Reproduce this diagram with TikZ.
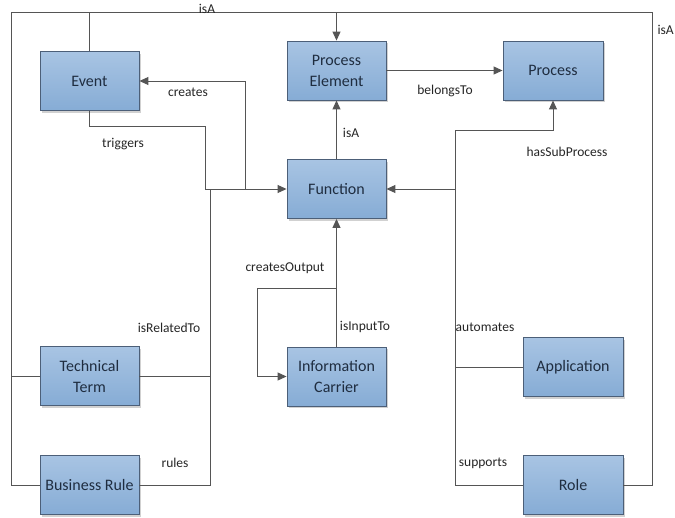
\documentclass[tikz,border=0pt]{standalone}
\usepackage{fontspec}
\setmainfont{Carlito}
\usetikzlibrary{arrows.meta,shadows}
\definecolor{boxtop}{HTML}{A8C4E3}
\definecolor{boxbot}{HTML}{86ACD5}
\definecolor{boxline}{HTML}{4C5F78}
\definecolor{boxtext}{HTML}{1F2D40}
\definecolor{lnk}{HTML}{555555}
\tikzset{
  box/.style={draw=boxline, line width=0.9pt, top color=boxtop, bottom color=boxbot,
    minimum width=99pt, minimum height=59pt, align=center, inner sep=2pt,
    text=boxtext, font=\fontsize{16}{21}\selectfont,
    drop shadow={shadow xshift=2pt, shadow yshift=-2pt, fill=black!40, opacity=0.45}},
  link/.style={draw=lnk, line width=1pt},
  arr/.style={link, -{Triangle[length=9pt,width=8pt]}},
  lbl/.style={font=\fontsize{13.5}{16}\selectfont, inner sep=0pt, text=black!85}
}
\begin{document}
\begin{tikzpicture}[x=1pt,y=-1pt]
\useasboundingbox (0,0) rectangle (675,517);
\clip (0,0) rectangle (675,517);
\fill[white] (0,0) rectangle (675,517);

% nodes
\node[box] (event) at (89.5,81) {Event};
\node[box] (pe) at (336.5,70.5) {Process\\Element};
\node[box, minimum width=100pt] (proc) at (553,70.5) {Process};
\node[box] (func) at (336.5,189) {Function};
\node[box] (tt) at (89.5,376) {Technical\\Term};
\node[box] (br) at (89.5,485) {Business Rule};
\node[box] (ic) at (336.5,376.5) {Information\\Carrier};
\node[box, minimum width=100pt] (app) at (573,367) {Application};
\node[box, minimum width=100pt] (role) at (573,485) {Role};

% junction coordinates
\coordinate (tl) at (11,12);
\coordinate (tr) at (652,12);
\coordinate (bl) at (11,485);
\coordinate (trig) at (205,126);
\coordinate (rel) at (210,189);
\coordinate (crt) at (245,189);
\coordinate (sub) at (455,189);
\coordinate (hsp) at (553,130);
\coordinate (co) at (336.5,288);
\coordinate (col) at (257,288);

% isA frame
\draw[link] (br.west) -- (bl) -- (tl) -- (tr) |- (role.east);
\draw[link] (tt.west) -- (tt.west -| bl);
\draw[link] (event.north) -- (event.north |- tl);
\draw[arr] (pe.north |- tl) -- (pe.north);

% triggers
\draw[arr] (event.south) |- (trig) -- (trig |- func.west) -- (func.west);
% isRelatedTo / rules
\draw[link] (rel) |- (br.east);
\draw[link] (tt.east) -- (tt.east -| rel);
% creates
\draw[arr] (crt) |- (event.east);
% isA
\draw[arr] (func.north) -- (pe.south);
% belongsTo
\draw[arr] (pe.east) -- (proc.west);
% hasSubProcess
\draw[arr] (sub) |- (hsp) -- (proc.south);
% automates / supports
\draw[arr] (role.west) -| (sub) -- (func.east);
\draw[link] (app.west) -- (app.west -| sub);
% isInputTo
\draw[arr] (ic.north) -- (func.south);
% createsOutput
\draw[arr] (co) -- (col) |- (ic.west);

% labels
\node[lbl] (l1) at (207,9) {isA};
\node[lbl, anchor=east] (l2) at (674,30) {isA};
\node[lbl] (l3) at (188,92) {creates};
\node[lbl] (l4) at (123,144) {triggers};
\node[lbl] (l5) at (351,133) {isA};
\node[lbl] (l6) at (445,91) {belongsTo};
\node[lbl] (l7) at (567,152) {hasSubProcess};
\node[lbl] (l8) at (285,268) {createsOutput};
\node[lbl] (l9) at (169,328) {isRelatedTo};
\node[lbl] (l10) at (175,463) {rules};
\node[lbl] (l11) at (365,327) {isInputTo};
\node[lbl] (l12) at (485,327) {automates};
\node[lbl] (l13) at (483,463) {supports};
\end{tikzpicture}
\end{document}
